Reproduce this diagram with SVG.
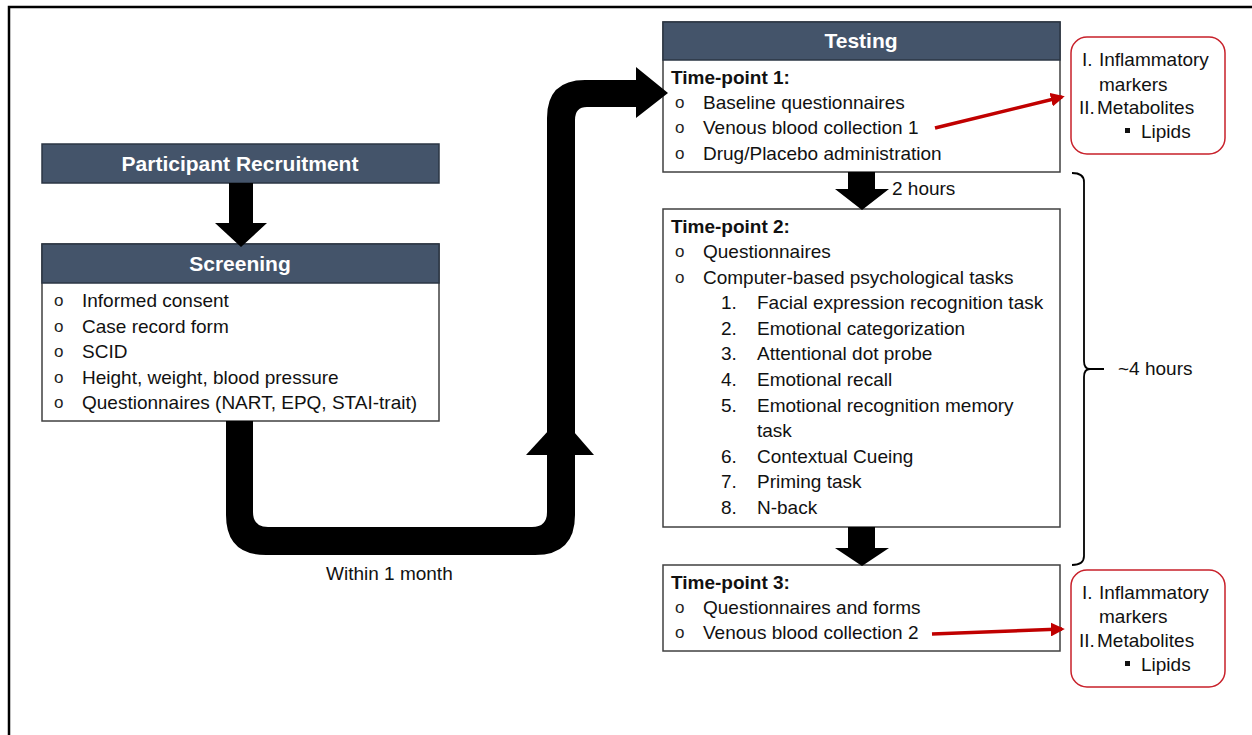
<svg xmlns="http://www.w3.org/2000/svg" width="1252" height="735" viewBox="0 0 1252 735">
<style>
.t{font-family:"Liberation Sans",Arial,sans-serif;font-size:19px;fill:#111}
.b{font-weight:bold}
.hd{font-family:"Liberation Sans",Arial,sans-serif;font-size:21px;font-weight:bold;fill:#fff}
.bu{font-family:"Liberation Sans",Arial,sans-serif;font-size:17px;fill:#222}
.hbox{fill:#44546A;stroke:#2b3644;stroke-width:1.5}
.box{fill:#fff;stroke:#404040;stroke-width:1.5}
.rbox{fill:#fff;stroke:#C8202A;stroke-width:1.5}
.blk{fill:#000}
.red{stroke:#C00000;stroke-width:3.5;fill:none}
</style>
<defs>
<marker id="ra" viewBox="0 0 10 10" refX="8" refY="5" markerWidth="4" markerHeight="4" orient="auto" markerUnits="strokeWidth">
<path d="M0,0 L10,5 L0,10 z" fill="#C00000"/>
</marker>
</defs>
<rect width="1252" height="735" fill="#fff"/>
<path d="M9,735 V7 H1252" fill="none" stroke="#000" stroke-width="2.5"/>

<g id="recruitment">
<rect class="hbox" x="42" y="144" width="397" height="39"/>
<text class="hd" x="240" y="171" text-anchor="middle">Participant Recruitment</text>
</g>

<g id="screening">
<rect class="box" x="42" y="244" width="397" height="177"/>
<rect class="hbox" x="42" y="244" width="397" height="39"/>
<text class="hd" x="240" y="271" text-anchor="middle">Screening</text>
<g class="bu"><text x="54" y="306">o</text><text x="54" y="332">o</text><text x="54" y="357">o</text><text x="54" y="383">o</text><text x="54" y="408">o</text></g>
<text class="t" x="82" y="307">Informed consent</text>
<text class="t" x="82" y="333">Case record form</text>
<text class="t" x="82" y="358">SCID</text>
<text class="t" x="82" y="384">Height, weight, blood pressure</text>
<text class="t" x="82" y="409">Questionnaires (NART, EPQ, STAI-trait)</text>
</g>

<g id="testing">
<rect class="box" x="663" y="22" width="397" height="150"/>
<rect class="hbox" x="663" y="22" width="397" height="38"/>
<text class="hd" x="861" y="48" text-anchor="middle">Testing</text>
<text class="t b" x="671" y="84">Time-point 1:</text>
<g class="bu"><text x="675" y="108">o</text><text x="675" y="133">o</text><text x="675" y="159">o</text></g>
<text class="t" x="703" y="109">Baseline questionnaires</text>
<text class="t" x="703" y="134">Venous blood collection 1</text>
<text class="t" x="703" y="160">Drug/Placebo administration</text>
</g>

<g id="timepoint2">
<rect class="box" x="663" y="209" width="397" height="318"/>
<text class="t b" x="671" y="233">Time-point 2:</text>
<g class="bu"><text x="675" y="257">o</text><text x="675" y="283">o</text></g>
<text class="t" x="703" y="258">Questionnaires</text>
<text class="t" x="703" y="284">Computer-based psychological tasks</text>
<text class="t" x="721" y="309">1.</text><text class="t" x="757" y="309">Facial expression recognition task</text>
<text class="t" x="721" y="335">2.</text><text class="t" x="757" y="335">Emotional categorization</text>
<text class="t" x="721" y="360">3.</text><text class="t" x="757" y="360">Attentional dot probe</text>
<text class="t" x="721" y="386">4.</text><text class="t" x="757" y="386">Emotional recall</text>
<text class="t" x="721" y="412">5.</text><text class="t" x="757" y="412">Emotional recognition memory</text>
<text class="t" x="757" y="437">task</text>
<text class="t" x="721" y="463">6.</text><text class="t" x="757" y="463">Contextual Cueing</text>
<text class="t" x="721" y="488">7.</text><text class="t" x="757" y="488">Priming task</text>
<text class="t" x="721" y="514">8.</text><text class="t" x="757" y="514">N-back</text>
</g>

<g id="timepoint3">
<rect class="box" x="663" y="565" width="397" height="86"/>
<text class="t b" x="671" y="589">Time-point 3:</text>
<g class="bu"><text x="675" y="613">o</text><text x="675" y="638">o</text></g>
<text class="t" x="703" y="614">Questionnaires and forms</text>
<text class="t" x="703" y="639">Venous blood collection 2</text>
</g>

<g id="markers1">
<rect class="rbox" x="1071" y="37" width="154" height="117" rx="16"/>
<text class="t" x="1082" y="66">I.</text><text class="t" x="1099" y="66">Inflammatory</text>
<text class="t" x="1099" y="91">markers</text>
<text class="t" x="1079" y="114">II.</text><text class="t" x="1097" y="114">Metabolites</text>
<rect x="1125" y="128" width="5" height="5" fill="#111"/>
<text class="t" x="1141" y="138">Lipids</text>
</g>

<g id="markers2">
<rect class="rbox" x="1071" y="570" width="154" height="117" rx="16"/>
<text class="t" x="1082" y="599">I.</text><text class="t" x="1099" y="599">Inflammatory</text>
<text class="t" x="1099" y="623">markers</text>
<text class="t" x="1079" y="647">II.</text><text class="t" x="1097" y="647">Metabolites</text>
<rect x="1125" y="661" width="5" height="5" fill="#111"/>
<text class="t" x="1141" y="671">Lipids</text>
</g>

<g id="labels">
<text class="t" x="892" y="195">2 hours</text>
<text class="t" x="1118" y="375">~4 hours</text>
<text class="t" x="326" y="580">Within 1 month</text>
</g>

<g id="connectors">
<path class="blk" d="M229,183 H253 V223 H267 L241,247 L215,223 H229 Z"/>
<path class="blk" d="M226,421 H253 V512 Q253,527 268,527 H532 Q547,527 547,512 V118 Q547,80 585,80 H636 V67 L668,93 L636,118 V107 H587 Q575,107 575,120 V515 Q575,555 535,555 H266 Q226,555 226,515 Z"/>
<path class="blk" d="M526,455 L561,417 L594,455 Z"/>
<path class="blk" d="M848,172 H875 V189 H889 L862,210 L835,189 H848 Z"/>
<path class="blk" d="M848,527 H875 V548 H889 L862,566 L835,548 H848 Z"/>
<path class="red" d="M935,128 L1062,97" marker-end="url(#ra)"/>
<path class="red" d="M932,634 L1062,629" marker-end="url(#ra)"/>
<path d="M1072,173 Q1084,173 1084,182 V361 Q1084,369 1090,369 H1104 M1090,369 Q1084,369 1084,377 V556 Q1084,565 1072,565" fill="none" stroke="#000" stroke-width="1.8"/>
</g>
</svg>
